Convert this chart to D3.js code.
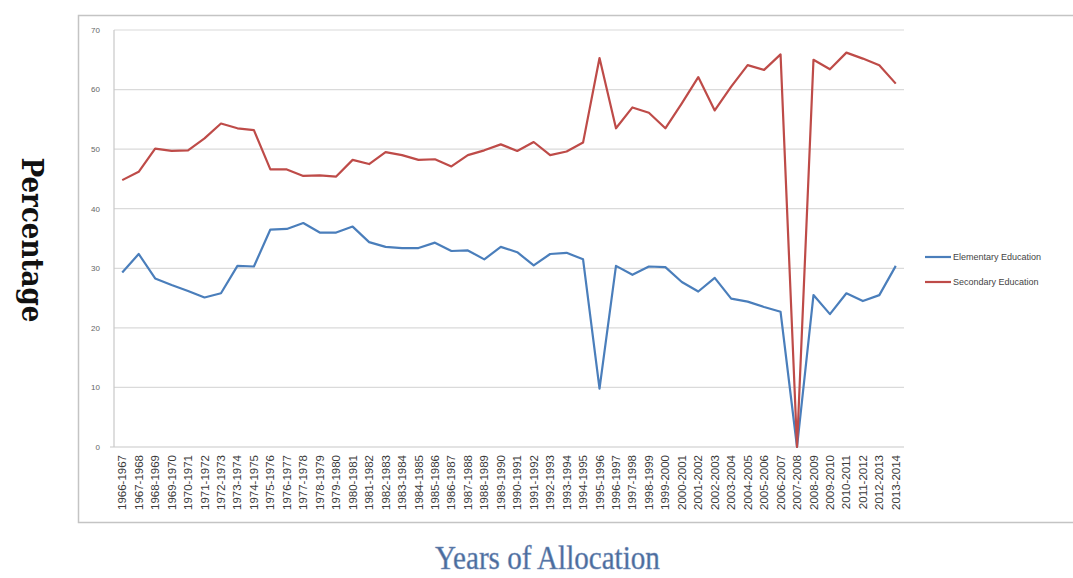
<!DOCTYPE html>
<html>
<head>
<meta charset="utf-8">
<script src="https://cdn.jsdelivr.net/npm/d3@7"></script>
<style>
  body { margin: 0; background: #fff; }
  svg { display: block; }
</style>
</head>
<body>
<div id="chart-area"></div>
<script>
// data
var years = ["1966-1967","1967-1968","1968-1969","1969-1970","1970-1971","1971-1972","1972-1973","1973-1974",
  "1974-1975","1975-1976","1976-1977","1977-1978","1978-1979","1979-1980","1980-1981","1981-1982",
  "1982-1983","1983-1984","1984-1985","1985-1986","1986-1987","1987-1988","1988-1989","1989-1990",
  "1990-1991","1991-1992","1992-1993","1993-1994","1994-1995","1995-1996","1996-1997","1997-1998",
  "1998-1999","1999-2000","2000-2001","2001-2002","2002-2003","2003-2004","2004-2005","2005-2006",
  "2006-2007","2007-2008","2008-2009","2009-2010","2010-2011","2011-2012","2012-2013","2013-2014"];

var elementary = [29.3,32.4,28.3,27.2,26.2,25.1,25.8,30.4,30.3,36.5,36.6,37.6,36.0,36.0,37.0,34.4,
  33.6,33.4,33.4,34.3,32.9,33.0,31.5,33.6,32.7,30.5,32.4,32.6,31.5,9.8,30.4,28.9,
  30.3,30.2,27.7,26.1,28.4,24.9,24.4,23.5,22.7,0,25.5,22.3,25.8,24.5,25.5,30.4];

var secondary = [44.8,46.2,50.1,49.7,49.8,51.8,54.3,53.5,53.2,46.6,46.6,45.5,45.6,45.4,48.2,47.5,
  49.5,49.0,48.2,48.3,47.1,49.0,49.8,50.8,49.7,51.2,49.0,49.6,51.1,65.3,53.5,57.0,
  56.1,53.5,57.7,62.1,56.5,60.5,64.1,63.3,65.9,0,65.0,63.4,66.2,65.2,64.1,61.0];

var yTicks = [0,10,20,30,40,50,60,70];
var seriesNames = ["Elementary Education","Secondary Education"];
var seriesColors = ["#4a7ebb","#be4b48"];

var width = 1073, height = 578;
var svg = d3.select("#chart-area").append("svg").attr("width", width).attr("height", height);

// outer chart border (open on the right, like the cropped screenshot)
svg.append("path")
  .attr("d", "M" + (width + 5) + ",15.5 L78.5,15.5 L78.5,522.5 L" + (width + 5) + ",522.5")
  .attr("fill", "none")
  .attr("stroke", "#c4c4c4")
  .attr("stroke-width", 1.5);

var x = d3.scalePoint().domain(years).range([114, 904]).padding(0.5);
var y = d3.scaleLinear().domain([0, 70]).range([447, 30]);

// gridlines
svg.append("g").selectAll("line")
  .data(yTicks.filter(function(d) { return d > 0; }))
  .enter().append("line")
  .attr("x1", 114).attr("x2", 904)
  .attr("y1", function(d) { return y(d); })
  .attr("y2", function(d) { return y(d); })
  .attr("stroke", "#dadada")
  .attr("stroke-width", 1.2);

// axes lines
svg.append("line").attr("x1", 114).attr("x2", 114).attr("y1", y(70)).attr("y2", y(0))
  .attr("stroke", "#c8c8c8").attr("stroke-width", 1.2);
svg.append("line").attr("x1", 110).attr("x2", 904).attr("y1", y(0)).attr("y2", y(0))
  .attr("stroke", "#c8c8c8").attr("stroke-width", 1.2);

// y tick labels
svg.append("g").selectAll("text")
  .data(yTicks)
  .enter().append("text")
  .attr("x", 100)
  .attr("y", function(d) { return y(d); })
  .attr("dy", "0.35em")
  .attr("text-anchor", "end")
  .attr("font-family", "Liberation Sans, Arial, sans-serif")
  .attr("font-size", "8px")
  .attr("fill", "#666")
  .text(function(d) { return d; });

// x tick labels, rotated
svg.append("g").selectAll("text")
  .data(years)
  .enter().append("text")
  .attr("transform", function(d) { return "translate(" + x(d) + ",455) rotate(-90)"; })
  .attr("dy", "0.35em")
  .attr("text-anchor", "end")
  .attr("font-family", "Liberation Sans, Arial, sans-serif")
  .attr("font-size", "11.5px")
  .attr("fill", "#3a3a3a")
  .text(function(d) { return d; });

// lines
var line = d3.line()
  .x(function(d, i) { return x(years[i]); })
  .y(function(d) { return y(d); });

[elementary, secondary].forEach(function(vals, k) {
  svg.append("path")
    .datum(vals)
    .attr("d", line)
    .attr("fill", "none")
    .attr("stroke", seriesColors[k])
    .attr("stroke-width", 2.2)
    .attr("stroke-linejoin", "round");
});

// legend
var legend = svg.append("g").selectAll("g")
  .data(seriesNames)
  .enter().append("g")
  .attr("transform", function(d, i) { return "translate(925," + (257 + i * 25) + ")"; });
legend.append("line")
  .attr("x1", 0).attr("x2", 26)
  .attr("stroke", function(d, i) { return seriesColors[i]; })
  .attr("stroke-width", 2.2);
legend.append("text")
  .attr("x", 28)
  .attr("dy", "0.35em")
  .attr("font-family", "Liberation Sans, Arial, sans-serif")
  .attr("font-size", "9px")
  .attr("fill", "#444")
  .text(function(d) { return d; });

// y axis title, slab-serif typewriter look
svg.append("text")
  .attr("transform", "translate(22,240) rotate(90)")
  .attr("text-anchor", "middle")
  .attr("font-family", "DejaVu Serif, serif")
  .attr("font-weight", "bold")
  .attr("font-size", "30px")
  .attr("textLength", 165)
  .attr("lengthAdjust", "spacingAndGlyphs")
  .attr("fill", "#111")
  .text("Percentage");

// x axis title, condensed serif
var xt = svg.append("text")
  .attr("font-family", "Liberation Serif, Times New Roman, serif")
  .attr("font-size", "34px")
  .attr("fill", "#4a6b9c")
  .attr("stroke", "#7f98bf")
  .attr("stroke-width", 0.5)
  .text("Years of Allocation");
var tw = xt.node().getComputedTextLength();
var sx = 225 / tw;
xt.attr("transform", "translate(435,569) scale(" + sx + ",1)");
</script>
</body>
</html>
